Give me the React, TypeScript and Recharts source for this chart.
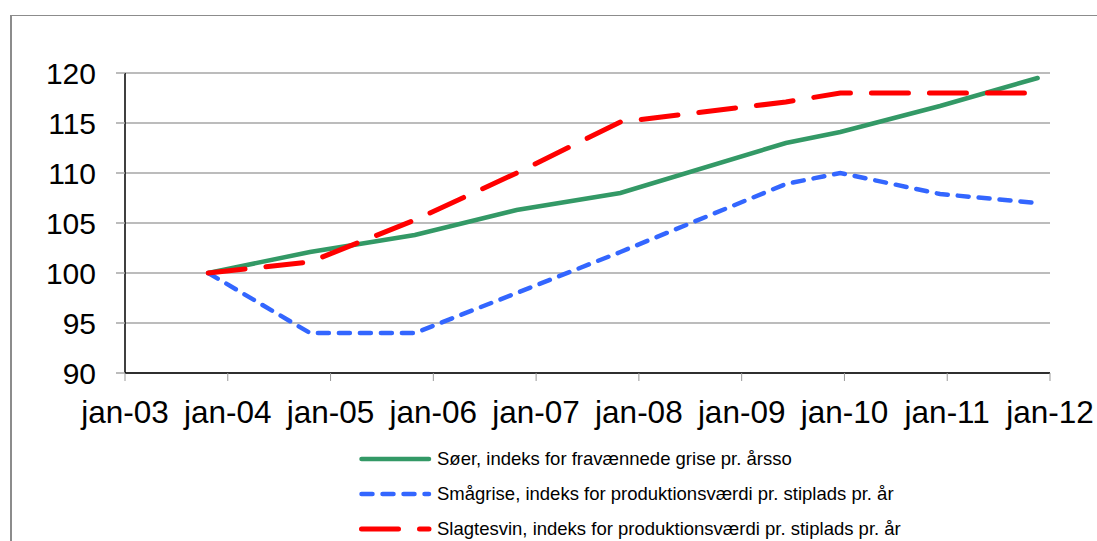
import { CartesianGrid, Line, LineChart, XAxis, YAxis } from "recharts";

// tidspunkt i år (decimal)
const tidspunkter = [2003.81, 2004.8, 2005.82, 2006.81, 2007.82, 2009.43, 2009.96, 2010.93, 2011.88];
const soeer = [100, 102.1, 103.8, 106.3, 108.0, 113.0, 114.1, 116.7, 119.5];
const smaagrise = [100, 94, 94, 98.0, 102.1, 108.9, 110, 107.9, 107];
const slagtesvin = [100, 101.1, 105.3, 110, 115.1, 117.1, 118, 118, 118];

const aarTicks = [2003, 2004, 2005, 2006, 2007, 2008, 2009, 2010, 2011, 2012];
const indeksTicks = [90, 95, 100, 105, 110, 115, 120];

const serier = [
  { key: "soeer", name: "Søer, indeks for fravænnede grise pr. årsso", color: "#339966", width: 4.5, dash: undefined },
  { key: "smaagrise", name: "Smågrise, indeks for produktionsværdi pr. stiplads pr. år", color: "#3366ff", width: 4.5, dash: "11 10" },
  { key: "slagtesvin", name: "Slagtesvin, indeks for produktionsværdi pr. stiplads pr. år", color: "#ff0000", width: 5, dash: "37 21" },
];

const data = tidspunkter.map((t, i) => ({
  t,
  soeer: soeer[i],
  smaagrise: smaagrise[i],
  slagtesvin: slagtesvin[i],
}));

const font = "'Liberation Sans', Arial, sans-serif";

function fmtAar(v: number) {
  return "jan-" + String(v).slice(2);
}

export default function App() {
  return (
    <div style={{ position: "absolute", left: 0, top: 0, width: 1097, height: 541, background: "#fff", overflow: "hidden", fontFamily: font }}>
      <div
        style={{
          position: "absolute",
          left: 10,
          top: 15,
          width: 1100,
          height: 540,
          borderTop: "1px solid #8c8c8c",
          borderLeft: "2px solid #8c8c8c",
        }}
      />
      <LineChart width={1097} height={541} data={data} margin={{ top: 73, right: 47, left: 0, bottom: 0 }}>
        <CartesianGrid vertical={false} stroke="#a6a6a6" strokeWidth={1.5} />
        <XAxis
          dataKey="t"
          type="number"
          domain={[2003, 2012]}
          ticks={aarTicks}
          tickFormatter={fmtAar}
          height={168}
          axisLine={{ stroke: "#000", strokeWidth: 1.5 }}
          tickLine={{ stroke: "#999" }}
          tickSize={8}
          tickMargin={20}
          tick={{ fill: "#000", fontSize: 31.5, fontFamily: font }}
          interval={0}
        />
        <YAxis
          type="number"
          domain={[90, 120]}
          ticks={indeksTicks}
          width={125}
          axisLine={{ stroke: "#000", strokeWidth: 1.5 }}
          tickLine={{ stroke: "#a6a6a6", strokeWidth: 1.5 }}
          tickSize={9}
          tickMargin={20}
          tick={{ fill: "#000", fontSize: 30, fontFamily: font }}
          interval={0}
        />
        {serier.map((s) => (
          <Line
            key={s.key}
            dataKey={s.key}
            name={s.name}
            type="linear"
            stroke={s.color}
            strokeWidth={s.width}
            strokeDasharray={s.dash}
            strokeLinecap="round"
            dot={false}
            activeDot={false}
            isAnimationActive={false}
          />
        ))}
      </LineChart>
      <div style={{ position: "absolute", left: 356, top: 441.5 }}>
        {serier.map((s) => (
          <div key={s.key} style={{ display: "flex", alignItems: "center", height: 35 }}>
            <svg width={78} height={10} style={{ display: "block" }}>
              <line
                x1={5.5}
                y1={5}
                x2={73}
                y2={5}
                stroke={s.color}
                strokeWidth={s.width}
                strokeDasharray={s.dash}
                strokeLinecap="round"
              />
            </svg>
            <span style={{ fontSize: 18.5, color: "#000", marginLeft: 3, whiteSpace: "nowrap" }}>{s.name}</span>
          </div>
        ))}
      </div>
    </div>
  );
}
